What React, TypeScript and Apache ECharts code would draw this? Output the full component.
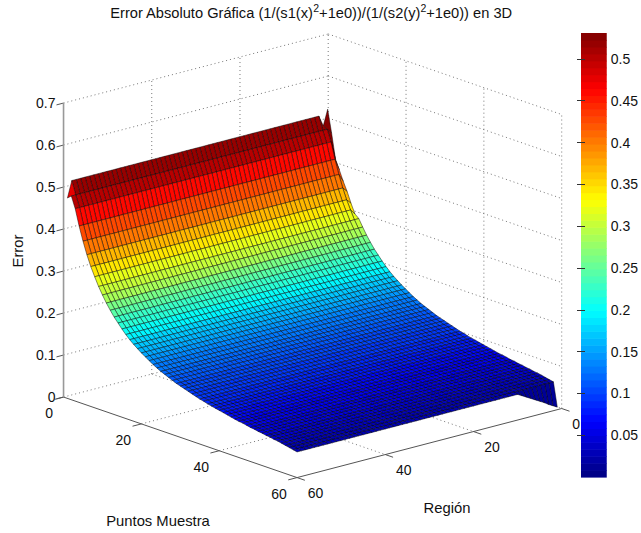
import React, { useEffect, useRef } from "react";
import * as echarts from "echarts";

const FONT = "'Liberation Sans', Arial, sans-serif";
const titleParts = ["Error Absoluto Gráfica (1/(s1(x)", "2", "+1e0))/(1/(s2(y)", "2", "+1e0)) en 3D"];
const puntosTicks = [0, 20, 40, 60];
const regionTicks = [0, 20, 40, 60];
const errorTicks = [0, 0.1, 0.2, 0.3, 0.4, 0.5, 0.6, 0.7];
const colorbarTicks = [0.05, 0.1, 0.15, 0.2, 0.25, 0.3, 0.35, 0.4, 0.45, 0.5];

// error read along the Puntos Muestra direction (samples 1..60)
const errorByPunto = [
  0.516, 0.485, 0.458, 0.42, 0.387, 0.358, 0.333, 0.312, 0.292, 0.275,
  0.259, 0.245, 0.232, 0.221, 0.21, 0.2, 0.191, 0.183, 0.176, 0.169,
  0.163, 0.157, 0.151, 0.146, 0.141, 0.137, 0.133, 0.129, 0.125, 0.122,
  0.119, 0.116, 0.113, 0.11, 0.107, 0.105, 0.102, 0.1, 0.098, 0.096,
  0.094, 0.092, 0.09, 0.088, 0.086, 0.085, 0.083, 0.081, 0.08, 0.078,
  0.077, 0.075, 0.074, 0.072, 0.071, 0.069, 0.067, 0.065, 0.063, 0.061,
];
// colour value of each row of facets
const shadeByPunto = [
  0.516, 0.498, 0.464, 0.431, 0.401, 0.372, 0.345, 0.322, 0.302, 0.283,
  0.262, 0.245, 0.23, 0.216, 0.204, 0.192, 0.181, 0.17, 0.16, 0.152,
  0.145, 0.138, 0.132, 0.127, 0.122, 0.118, 0.114, 0.11, 0.107, 0.104,
  0.101, 0.098, 0.095, 0.092, 0.09, 0.088, 0.085, 0.082, 0.079, 0.076,
  0.073, 0.07, 0.068, 0.066, 0.064, 0.061, 0.059, 0.057, 0.055, 0.053,
  0.05, 0.048, 0.045, 0.042, 0.039, 0.036, 0.033, 0.03, 0.027,
];
// deviations at the edges of the surface
const firstRowStart = [0.527, 0.49]; // punto 1, region 1..2
const firstRowEnd = 0.477; // punto 1, region 60
const firstColumnStart = [0.527, 0.474, 0.415, 0.392, 0.368, 0.347, 0.322, 0.3]; // region 1, punto 1..8
const lastRowStart = [0.006, 0.012, 0.018, 0.025, 0.031, 0.037, 0.043, 0.049, 0.055, 0.061]; // punto 60, region 1..10
const lastRowShade = 0.012; // colour of the fold at the right corner

const COUNT = 60;
const Z_MIN = 0;
const Z_MAX = 0.531;

const surfaceZ = (u: number, v: number): number => {
  if (u === 1 && v <= firstRowStart.length) return firstRowStart[v - 1];
  if (u === 1 && v === COUNT) return firstRowEnd;
  if (u === COUNT && v <= lastRowStart.length) return lastRowStart[v - 1];
  if (v === 1 && u <= firstColumnStart.length) return firstColumnStart[u - 1];
  return errorByPunto[u - 1];
};
const facetShade = (u: number, v: number): number => {
  if (v === 1 && u <= 2) return firstRowStart[0];
  if (u === 1 && v === COUNT - 1) return firstRowEnd;
  if (u === COUNT - 1 && v < lastRowStart.length) return lastRowShade;
  return shadeByPunto[u - 1];
};

// view: orthographic box projection onto the page plane
const project = (u: number, v: number, z: number): [number, number] => [
  328.2 + u * 3.892 - v * 4.411,
  328 + u * 1.342 + v * 1.151 - z * 420,
];

const jet = (t: number): string => {
  const c = (x: number) => Math.max(0, Math.min(1, x));
  const r = c(Math.min(4 * t - 1.5, -4 * t + 4.5));
  const g = c(Math.min(4 * t - 0.5, -4 * t + 3.5));
  const b = c(Math.min(4 * t + 0.5, -4 * t + 2.5));
  return `rgb(${Math.round(r * 255)},${Math.round(g * 255)},${Math.round(b * 255)})`;
};
const LEVELS = 64;
const colorOf = (z: number): string => {
  const i = Math.min(LEVELS - 1, Math.floor(((z - Z_MIN) / (Z_MAX - Z_MIN)) * LEVELS));
  return jet((i + 0.5) / LEVELS);
};

type Seg = [number, number, number, number, number, number];
const gridSegs: Seg[] = [];
errorTicks.forEach((z) => {
  gridSegs.push([0, 60, z, 0, 0, z]);
  gridSegs.push([0, 0, z, 60, 0, z]);
});
[0, 20, 40].forEach((v) => gridSegs.push([0, v, 0, 0, v, 0.7]));
[20, 40, 60].forEach((u) => gridSegs.push([u, 0, 0, u, 0, 0.7]));
[20, 40].forEach((u) => gridSegs.push([u, 60, 0, u, 0, 0]));
[20, 40].forEach((v) => gridSegs.push([0, v, 0, 60, v, 0]));

const floorSegs: Seg[] = [
  [0, 60, 0, 60, 60, 0],
  [60, 60, 0, 60, 0, 0],
];
puntosTicks.forEach((u) => floorSegs.push([u, 60, 0, u, 62, 0]));
regionTicks.forEach((v) => floorSegs.push([60, v, 0, 62, v, 0]));
errorTicks.forEach((z) => floorSegs.push([0, 60, z, 0, 61.6, z]));

const cells: number[][] = [];
for (let u = 1; u < COUNT; u++) for (let v = 1; v < COUNT; v++) cells.push([u, v]);

type Label = { text: string; at: [number, number, number]; dx: number; dy: number; align: string };
const labels: Label[] = [
  ...errorTicks.map((z) => ({ text: String(z), at: [0, 60, z] as [number, number, number], dx: -8, dy: 0, align: "right" })),
  ...puntosTicks.map((u) => ({ text: String(u), at: [u, 60, 0] as [number, number, number], dx: u === 0 ? -14.5 : -18, dy: 16, align: "center" })),
  ...regionTicks.map((v) => ({ text: String(v), at: [60, v, 0] as [number, number, number], dx: v === 0 ? 14.5 : 18.5, dy: 15.5, align: "center" })),
];

const segmentSeries = (data: Seg[], style: any, z: number) => ({
  type: "custom",
  coordinateSystem: "cartesian2d",
  xAxisIndex: 0,
  yAxisIndex: 0,
  silent: true,
  z,
  data,
  renderItem: (_: any, api: any) => {
    const [a, b, c, d, e, f] = [0, 1, 2, 3, 4, 5].map((i) => api.value(i));
    const p = api.coord(project(a, b, c));
    const q = api.coord(project(d, e, f));
    return { type: "line", shape: { x1: p[0], y1: p[1], x2: q[0], y2: q[1] }, style };
  },
});

export default function App() {
  const ref = useRef<HTMLDivElement>(null);
  useEffect(() => {
    document.body.style.margin = "0";
    const chart = echarts.init(ref.current!, undefined, { renderer: "svg" });
    const tickText = { fontFamily: FONT, fontSize: 14, color: "#111" };
    chart.setOption({
      animation: false,
      backgroundColor: "#fff",
      title: {
        left: 306,
        top: -3,
        textAlign: "center",
        text: `${titleParts[0]}{s|${titleParts[1]}}${titleParts[2]}{s|${titleParts[3]}}${titleParts[4]}`,
        textStyle: {
          fontFamily: FONT,
          fontSize: 14.65,
          lineHeight: 22,
          fontWeight: "normal",
          color: "#111",
          rich: { s: { fontFamily: FONT, fontSize: 10.5, lineHeight: 10, color: "#111", verticalAlign: "top" } },
        },
      },
      grid: [
        { left: 0, top: 0, width: 641, height: 533 },
        { left: 581, top: 33, width: 26, height: 444 },
      ],
      xAxis: [
        { type: "value", gridIndex: 0, min: 0, max: 641, show: false },
        { type: "value", gridIndex: 1, min: 0, max: 1, show: false },
      ],
      yAxis: [
        { type: "value", gridIndex: 0, min: 0, max: 533, inverse: true, show: false },
        {
          type: "value", gridIndex: 1, min: Z_MIN, max: Z_MAX, position: "right", z: 6,
          splitLine: { show: false },
          axisLine: { show: false },
          axisTick: { show: true, inside: true, length: 4, customValues: colorbarTicks, lineStyle: { color: "#333" } },
          axisLabel: { ...tickText, margin: 4, customValues: colorbarTicks, formatter: (v: number) => String(v) },
        },
        {
          type: "value", gridIndex: 1, min: Z_MIN, max: Z_MAX, position: "left", z: 6,
          splitLine: { show: false },
          axisLine: { show: false },
          axisTick: { show: true, inside: true, length: 4, customValues: colorbarTicks, lineStyle: { color: "#333" } },
          axisLabel: { show: false },
        },
      ],
      series: [
        segmentSeries(gridSegs, { stroke: "#777", lineWidth: 1, lineDash: [1, 3] }, 1),
        segmentSeries(floorSegs, { stroke: "#555", lineWidth: 1 }, 2),
        {
          type: "custom",
          coordinateSystem: "cartesian2d",
          xAxisIndex: 0,
          yAxisIndex: 0,
          silent: true,
          z: 4,
          data: errorTicks.slice(0, 1),
          renderItem: (_: any, api: any) => {
            const p = api.coord(project(0, 60, 0));
            const q = api.coord(project(0, 60, 0.7));
            return { type: "line", shape: { x1: p[0], y1: p[1], x2: q[0], y2: q[1] }, style: { stroke: "#999", lineWidth: 1.6 } };
          },
        },
        {
          type: "custom",
          coordinateSystem: "cartesian2d",
          xAxisIndex: 0,
          yAxisIndex: 0,
          silent: true,
          z: 5,
          data: cells,
          renderItem: (_: any, api: any) => {
            const u = api.value(0);
            const v = api.value(1);
            const corners: [number, number][] = [[u, v], [u, v + 1], [u + 1, v + 1], [u + 1, v]];
            const points = corners.map(([a, b]) => api.coord(project(a, b, surfaceZ(a, b))));
            return {
              type: "polygon",
              shape: { points },
              style: { fill: colorOf(facetShade(u, v)), stroke: "rgba(0,0,0,0.65)", lineWidth: 0.7 },
            };
          },
        },
        {
          type: "custom",
          coordinateSystem: "cartesian2d",
          xAxisIndex: 1,
          yAxisIndex: 1,
          silent: true,
          z: 3,
          data: Array.from({ length: LEVELS }, (_, i) => [i]),
          renderItem: (_: any, api: any) => {
            const i = api.value(0);
            const step = (Z_MAX - Z_MIN) / LEVELS;
            const p = api.coord([0, Z_MIN + step * i]);
            const q = api.coord([1, Z_MIN + step * (i + 1)]);
            return {
              type: "rect",
              shape: { x: p[0], y: q[1], width: q[0] - p[0], height: p[1] - q[1] + 0.6 },
              style: { fill: jet((i + 0.5) / LEVELS) },
            };
          },
        },
        {
          type: "custom",
          coordinateSystem: "cartesian2d",
          xAxisIndex: 0,
          yAxisIndex: 0,
          silent: true,
          z: 7,
          data: labels.map((_, i) => [i]),
          renderItem: (_: any, api: any) => {
            const l = labels[api.value(0)];
            const p = api.coord(project(l.at[0], l.at[1], l.at[2]));
            return {
              type: "text",
              style: { text: l.text, x: p[0] + l.dx, y: p[1] + l.dy, align: l.align, verticalAlign: "middle", font: `14px ${FONT}`, fill: "#111" },
            };
          },
        },
      ],
      graphic: [
        { type: "text", x: 158, y: 521, style: { text: "Puntos Muestra", align: "center", verticalAlign: "middle", font: `14.8px ${FONT}`, fill: "#111" } },
        { type: "text", x: 447, y: 508, style: { text: "Región", align: "center", verticalAlign: "middle", font: `14.8px ${FONT}`, fill: "#111" } },
        { type: "text", x: 18, y: 251, rotation: Math.PI / 2, style: { text: "Error", align: "center", verticalAlign: "middle", font: `14.8px ${FONT}`, fill: "#111" } },
      ],
    });
    return () => chart.dispose();
  }, []);
  return <div ref={ref} style={{ width: 641, height: 533 }} />;
}
